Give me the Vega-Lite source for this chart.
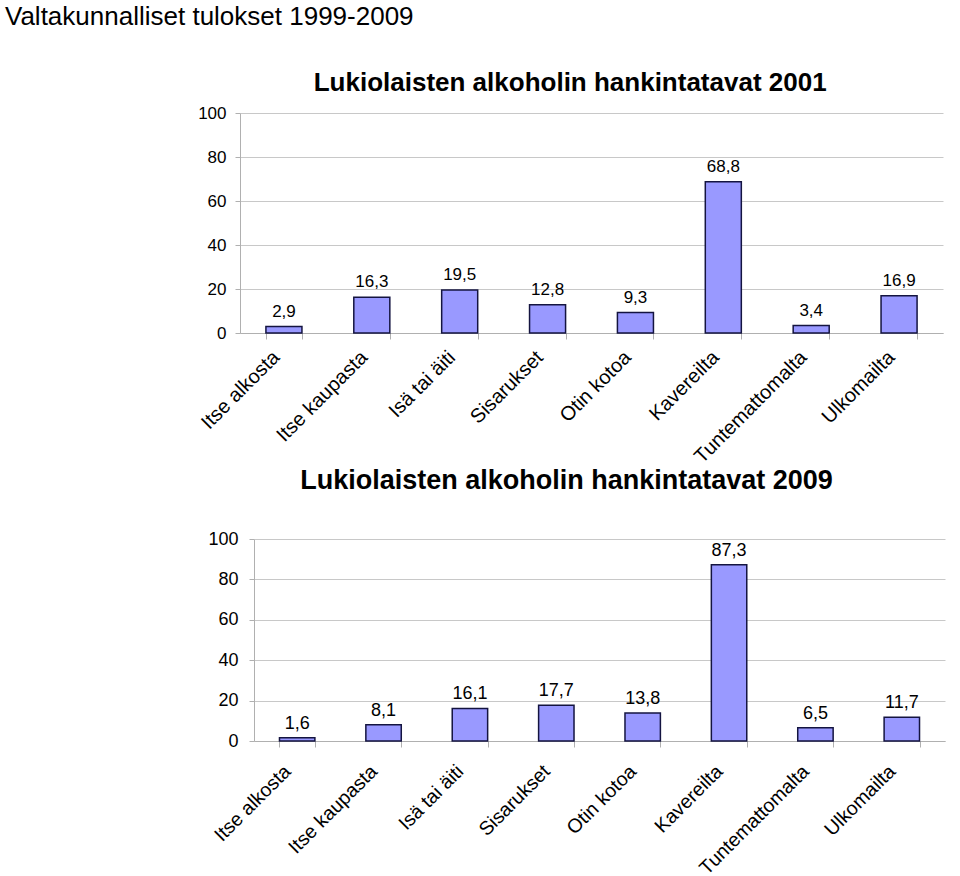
{
  "$schema": "https://vega.github.io/schema/vega-lite/v6.json",
  "background": "white",
  "padding": {"left": 5, "top": 4, "right": 5, "bottom": 0},
  "title": {
    "text": "Valtakunnalliset tulokset 1999-2009",
    "anchor": "start",
    "frame": "group",
    "dx": -235,
    "fontSize": 26,
    "fontWeight": "normal",
    "color": "black",
    "offset": 40
  },
  "datasets": {
    "y2001": [
      {"lahde": "Itse alkosta", "osuus": 2.9},
      {"lahde": "Itse kaupasta", "osuus": 16.3},
      {"lahde": "Isä tai äiti", "osuus": 19.5},
      {"lahde": "Sisarukset", "osuus": 12.8},
      {"lahde": "Otin kotoa", "osuus": 9.3},
      {"lahde": "Kavereilta", "osuus": 68.8},
      {"lahde": "Tuntemattomalta", "osuus": 3.4},
      {"lahde": "Ulkomailta", "osuus": 16.9}
    ],
    "y2009": [
      {"lahde": "Itse alkosta", "osuus": 1.6},
      {"lahde": "Itse kaupasta", "osuus": 8.1},
      {"lahde": "Isä tai äiti", "osuus": 16.1},
      {"lahde": "Sisarukset", "osuus": 17.7},
      {"lahde": "Otin kotoa", "osuus": 13.8},
      {"lahde": "Kavereilta", "osuus": 87.3},
      {"lahde": "Tuntemattomalta", "osuus": 6.5},
      {"lahde": "Ulkomailta", "osuus": 11.7}
    ]
  },
  "spacing": 0,
  "vconcat": [
    {
      "width": 703,
      "height": 220,
      "title": {
        "text": "Lukiolaisten alkoholin hankintatavat 2001",
        "anchor": "middle",
        "frame": "bounds",
        "fontSize": 26,
        "fontWeight": "bold",
        "color": "black",
        "offset": 8
      },
      "data": {"name": "y2001"},
      "encoding": {
        "x": {
          "field": "lahde",
          "type": "nominal",
          "sort": null,
          "scale": {"paddingInner": 0.59, "paddingOuter": 0.295},
          "axis": {
            "title": null,
            "labelAngle": -45,
            "labelAlign": "right",
            "labelBaseline": "middle",
            "labelFontSize": 20,
            "labelPadding": 15,
            "labelOffset": -8,
            "labelLimit": 0,
            "labelColor": "black",
            "tickBand": "extent",
            "tickSize": 6,
            "tickColor": "#b0b0b0",
            "domainColor": "#b0b0b0",
            "grid": false
          }
        },
        "y": {
          "field": "osuus",
          "type": "quantitative",
          "scale": {"domain": [0, 100]},
          "axis": {
            "title": null,
            "values": [0, 20, 40, 60, 80, 100],
            "labelFontSize": 17,
            "labelColor": "black",
            "labelPadding": 9,
            "tickSize": 5,
            "tickColor": "#b0b0b0",
            "domainColor": "#b0b0b0",
            "gridColor": "#c8c8c8"
          }
        }
      },
      "layer": [
        {"mark": {"type": "bar", "fill": "#9999ff", "stroke": "#141440", "strokeWidth": 1.5}},
        {
          "mark": {"type": "text", "baseline": "alphabetic", "dy": -10, "fontSize": 17, "color": "black"},
          "encoding": {"text": {"field": "osuus", "type": "quantitative", "format": ".1f"}}
        }
      ]
    },
    {
      "width": 705,
      "height": 202,
      "title": {
        "text": "Lukiolaisten alkoholin hankintatavat 2009",
        "anchor": "middle",
        "frame": "bounds",
        "dx": -10,
        "fontSize": 27,
        "fontWeight": "bold",
        "color": "black",
        "offset": 35
      },
      "data": {"name": "y2009"},
      "encoding": {
        "x": {
          "field": "lahde",
          "type": "nominal",
          "sort": null,
          "scale": {"range": [14, 705], "paddingInner": 0.59, "paddingOuter": 0.295},
          "axis": {
            "title": null,
            "labelAngle": -45,
            "labelAlign": "right",
            "labelBaseline": "middle",
            "labelFontSize": 19.5,
            "labelPadding": 21,
            "labelOffset": -10,
            "labelLimit": 0,
            "labelColor": "black",
            "tickBand": "extent",
            "tickSize": 6,
            "tickColor": "#b0b0b0",
            "domainColor": "#b0b0b0",
            "grid": false
          }
        },
        "y": {
          "field": "osuus",
          "type": "quantitative",
          "scale": {"domain": [0, 100]},
          "axis": {
            "title": null,
            "offset": -14,
            "values": [0, 20, 40, 60, 80, 100],
            "labelFontSize": 18,
            "labelColor": "black",
            "labelPadding": 11,
            "tickSize": 5,
            "tickColor": "#b0b0b0",
            "domainColor": "#b0b0b0",
            "gridColor": "#c8c8c8"
          }
        }
      },
      "layer": [
        {"mark": {"type": "bar", "fill": "#9999ff", "stroke": "#141440", "strokeWidth": 1.5}},
        {
          "mark": {"type": "text", "baseline": "alphabetic", "dy": -9, "fontSize": 18, "color": "black"},
          "encoding": {"text": {"field": "osuus", "type": "quantitative", "format": ".1f"}}
        }
      ]
    }
  ],
  "config": {
    "font": "Liberation Sans",
    "view": {"stroke": null},
    "locale": {"number": {"decimal": ",", "thousands": " ", "grouping": [3], "currency": ["", " €"]}}
  }
}
